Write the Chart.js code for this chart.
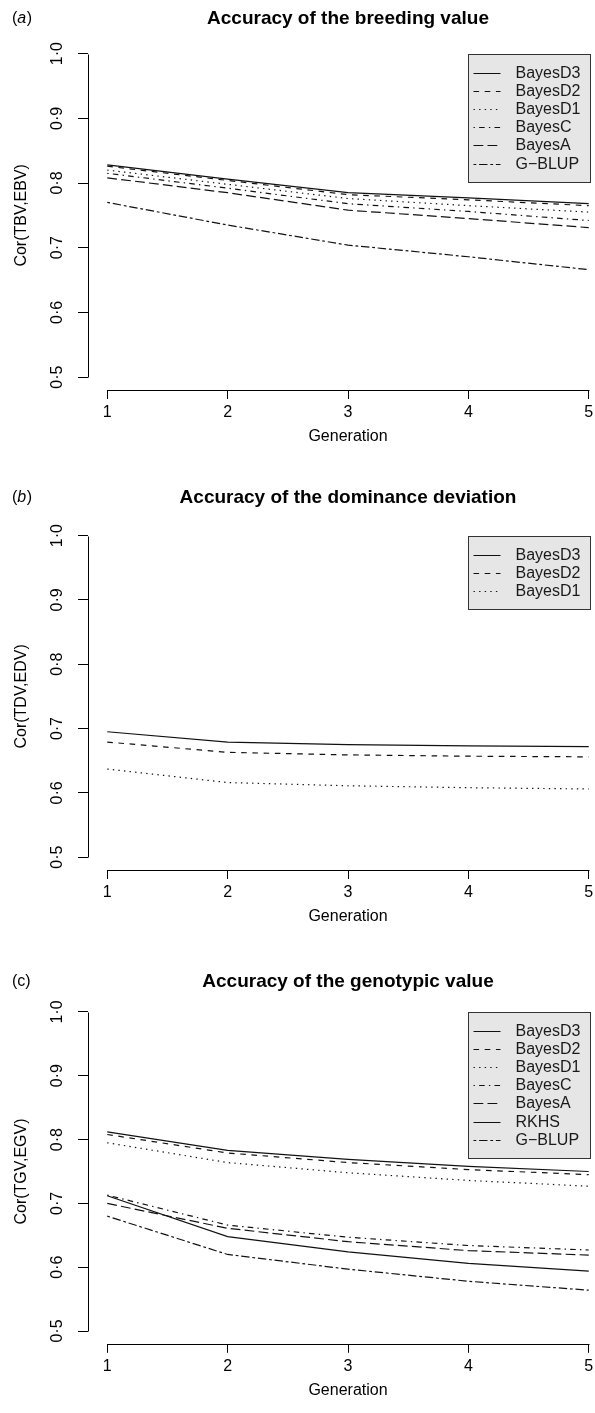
<!DOCTYPE html>
<html>
<head>
<meta charset="utf-8">
<script src="https://cdn.jsdelivr.net/npm/chart.js@4.4.0/dist/chart.umd.min.js"></script>
<style>
  html, body { margin: 0; padding: 0; background: #fff; overflow: hidden; width: 595px; height: 1413px; }
  .panel { position: absolute; left: 0; width: 608px; height: 471px; }
  canvas { display: block; }
</style>
</head>
<body>
<div class="panel" style="top:0px"><canvas id="chartA" width="608" height="471"></canvas></div>
<div class="panel" style="top:471px"><canvas id="chartB" width="608" height="471"></canvas></div>
<div class="panel" style="top:942px"><canvas id="chartC" width="608" height="471"></canvas></div>
<script>
// data
const generations = [1, 2, 3, 4, 5];
const yTicks = [0.5, 0.6, 0.7, 0.8, 0.9, 1.0];

// (a) breeding value
const bvBayesD3 = [0.828, 0.806, 0.785, 0.777, 0.768];
const bvBayesD2 = [0.826, 0.804, 0.782, 0.774, 0.765];
const bvBayesD1 = [0.820, 0.798, 0.776, 0.765, 0.755];
const bvBayesC  = [0.815, 0.792, 0.768, 0.756, 0.742];
const bvBayesA  = [0.808, 0.785, 0.758, 0.745, 0.731];
const bvGBLUP   = [0.770, 0.735, 0.704, 0.686, 0.666];

// (b) dominance deviation
const ddBayesD3 = [0.695, 0.679, 0.675, 0.673, 0.672];
const ddBayesD2 = [0.679, 0.663, 0.659, 0.657, 0.656];
const ddBayesD1 = [0.637, 0.616, 0.611, 0.608, 0.606];

// (c) genotypic value
const gvBayesD3 = [0.812, 0.783, 0.769, 0.758, 0.750];
const gvBayesD2 = [0.808, 0.779, 0.764, 0.753, 0.745];
const gvBayesD1 = [0.795, 0.764, 0.748, 0.736, 0.727];
const gvBayesC  = [0.713, 0.666, 0.647, 0.634, 0.627];
const gvBayesA  = [0.700, 0.661, 0.640, 0.626, 0.619];
const gvRKHS    = [0.712, 0.648, 0.624, 0.606, 0.594];
const gvGBLUP   = [0.680, 0.620, 0.597, 0.578, 0.564];

const FONT = '"Liberation Sans", Arial, Helvetica, sans-serif';
const H = 471;
const BASE = 16;

// R line types (lty 1..6)
const dashes = {
  'BayesD3': [],
  'BayesD2': [5.6, 5.6],
  'BayesD1': [1.4, 4.2],
  'BayesC': [1.4, 4.2, 5.6, 4.2],
  'BayesA': [9.8, 4.2],
  'RKHS': [],
  'G\u2212BLUP': [2.8, 2.8, 8.4, 2.8]
};

// axis lines only between first and last tick, like R
const rAxes = {
  id: 'rAxes',
  afterDraw(chart) {
    const { ctx, chartArea, scales: { x, y } } = chart;
    const ax = Math.round(chartArea.left) + 0.5;
    const ay = Math.round(chartArea.bottom) + 0.5;
    ctx.save();
    ctx.strokeStyle = '#000';
    ctx.lineWidth = 1;
    ctx.beginPath();
    ctx.moveTo(ax, Math.round(y.getPixelForValue(yTicks[0])) + 0.5);
    ctx.lineTo(ax, Math.round(y.getPixelForValue(yTicks[yTicks.length - 1])) + 0.5);
    ctx.moveTo(Math.round(x.getPixelForValue(generations[0])) + 0.5, ay);
    ctx.lineTo(Math.round(x.getPixelForValue(generations[generations.length - 1])) + 0.5, ay);
    ctx.stroke();
    ctx.restore();
  }
};

// boxed legend anchored at a data point (x=4, y=1.0)
const rLegend = {
  id: 'rLegend',
  afterDatasetsDraw(chart, args, opts) {
    const { ctx, scales: { x, y } } = chart;
    const sets = chart.data.datasets;
    const left = Math.round(x.getPixelForValue(opts.xValue)) + 0.5;
    const top = Math.round(y.getPixelForValue(opts.yValue)) + 0.5;
    ctx.save();
    ctx.font = BASE + 'px ' + FONT;
    const textW = Math.max(...sets.map(d => ctx.measureText(d.label).width));
    const w = Math.round(47 + textW + 10);
    const h = Math.round(18 + (sets.length - 1) * opts.rowH + 18.5);
    ctx.fillStyle = '#e6e6e6';
    ctx.fillRect(left, top, w, h);
    ctx.strokeStyle = '#333';
    ctx.lineWidth = 1;
    ctx.strokeRect(left, top, w, h);
    sets.forEach((d, i) => {
      const cy = Math.round(top + 18 + i * opts.rowH) + 0.5;
      ctx.strokeStyle = '#111';
      ctx.setLineDash(d.borderDash);
      ctx.beginPath();
      ctx.moveTo(left + 5, cy);
      ctx.lineTo(left + 32, cy);
      ctx.stroke();
      ctx.setLineDash([]);
      ctx.fillStyle = '#1a1a1a';
      ctx.textBaseline = 'middle';
      ctx.textAlign = 'left';
      ctx.fillText(d.label, left + 47, cy);
    });
    ctx.restore();
  }
};

// panel tag "(a)" etc.
const panelTag = {
  id: 'panelTag',
  afterDraw(chart, args, opts) {
    const { ctx } = chart;
    ctx.save();
    ctx.fillStyle = '#000';
    ctx.textBaseline = 'middle';
    ctx.textAlign = 'left';
    let px = 12;
    const parts = [['(', false], [opts.letter, opts.italic], [')', false]];
    parts.forEach(([t, it]) => {
      ctx.font = (it ? 'italic ' : '') + BASE + 'px ' + FONT;
      ctx.fillText(t, px, opts.y);
      px += ctx.measureText(t).width + (it ? 0.5 : 0);
    });
    ctx.restore();
  }
};

function makeChart(id, cfg) {
  const datasets = cfg.series.map(([label, values]) => ({
    label: label,
    data: generations.map((g, i) => ({ x: g, y: values[i] })),
    borderColor: '#111',
    borderWidth: 1.2,
    borderDash: dashes[label],
    pointRadius: 0,
    tension: 0,
    fill: false
  }));
  const tickFont = { family: FONT, size: BASE };
  const titleLH = 19 * 1.2;
  return new Chart(document.getElementById(id), {
    type: 'line',
    data: { datasets: datasets },
    options: {
      responsive: false,
      animation: false,
      events: [],
      layout: { padding: 0 },
      plugins: {
        legend: { display: false },
        tooltip: { enabled: false },
        title: {
          display: true,
          text: cfg.title,
          fullSize: false,
          color: '#000',
          font: { family: FONT, size: 19, weight: 'bold', lineHeight: 1.2 },
          padding: { top: cfg.titleY - titleLH / 2, bottom: cfg.top - cfg.titleY - titleLH / 2 }
        },
        rLegend: { xValue: 4, yValue: 1.0, rowH: 18.2 },
        panelTag: { letter: cfg.letter, italic: cfg.italic, y: cfg.titleY }
      },
      scales: {
        x: {
          type: 'linear',
          min: 0.84,
          max: 5.16,
          afterBuildTicks: s => { s.ticks = generations.map(v => ({ value: v })); },
          afterFit: s => { s.height = H - cfg.bottom; },
          border: { display: false },
          grid: { drawOnChartArea: false, drawTicks: true, tickLength: 9, color: '#000', lineWidth: 1 },
          ticks: { color: '#000', font: tickFont, padding: 4, maxRotation: 0, autoSkip: false },
          title: {
            display: true, text: 'Generation', color: '#000', font: tickFont,
            padding: { top: 0, bottom: H - (cfg.bottom + 47) - BASE * 0.6 }
          }
        },
        y: {
          type: 'linear',
          min: 0.48,
          max: 1.02,
          afterBuildTicks: s => { s.ticks = yTicks.map(v => ({ value: v })); },
          afterFit: s => { s.width = 88; },
          border: { display: false },
          grid: { drawOnChartArea: false, drawTicks: true, tickLength: 10, color: '#000', lineWidth: 1 },
          ticks: {
            color: '#000', font: tickFont, padding: 9, minRotation: 90, maxRotation: 90,
            crossAlign: 'center', autoSkip: false,
            callback: v => v.toFixed(1).replace('.', '\u00b7')
          },
          title: {
            display: true, text: cfg.yTitle, color: '#000', font: tickFont,
            padding: { top: 12, bottom: 0 }
          }
        }
      }
    },
    plugins: [rAxes, rLegend, panelTag]
  });
}

makeChart('chartA', {
  title: 'Accuracy of the breeding value', letter: 'a', italic: true,
  yTitle: 'Cor(TBV,EBV)', titleY: 19, top: 40.7, bottom: 390,
  series: [['BayesD3', bvBayesD3], ['BayesD2', bvBayesD2], ['BayesD1', bvBayesD1],
           ['BayesC', bvBayesC], ['BayesA', bvBayesA], ['G\u2212BLUP', bvGBLUP]]
});

makeChart('chartB', {
  title: 'Accuracy of the dominance deviation', letter: 'b', italic: true,
  yTitle: 'Cor(TDV,EDV)', titleY: 27, top: 51.8, bottom: 399,
  series: [['BayesD3', ddBayesD3], ['BayesD2', ddBayesD2], ['BayesD1', ddBayesD1]]
});

makeChart('chartC', {
  title: 'Accuracy of the genotypic value', letter: 'c', italic: false,
  yTitle: 'Cor(TGV,EGV)', titleY: 40, top: 57.2, bottom: 401.8,
  series: [['BayesD3', gvBayesD3], ['BayesD2', gvBayesD2], ['BayesD1', gvBayesD1],
           ['BayesC', gvBayesC], ['BayesA', gvBayesA], ['RKHS', gvRKHS], ['G\u2212BLUP', gvGBLUP]]
});
</script>
</body>
</html>
